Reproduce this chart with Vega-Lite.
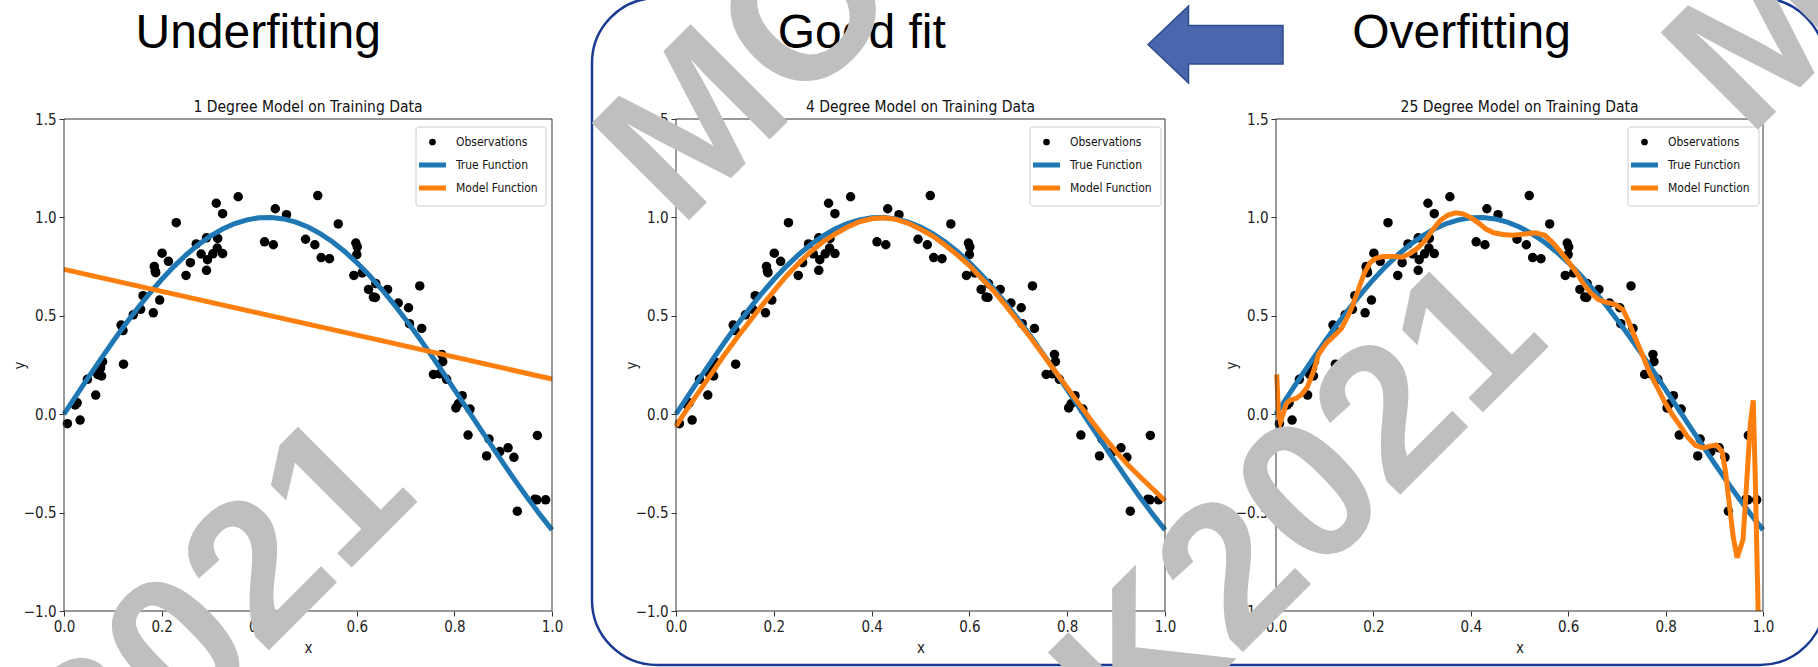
{
  "$schema": "https://vega.github.io/schema/vega-lite/v6.json",
  "width": 1818,
  "height": 667,
  "autosize": {"type": "none"},
  "padding": 0,
  "background": "white",
  "config": {
    "view": {"stroke": null},
    "font": "DejaVu Sans Condensed, DejaVu Sans",
    "axis": {"grid": false, "domain": false, "tickColor": "#333333", "tickSize": 5, "tickWidth": 1, "labelFontSize": 15, "labelColor": "#222222", "titleFontSize": 15, "titleFontWeight": "normal", "titleColor": "#222222", "labelFlush": false, "labelOverlap": false, "labelPadding": 3}
  },
  "datasets": {
    "obs": [
      {"x": 0.007, "y": -0.048}, {"x": 0.023, "y": 0.047}, {"x": 0.027, "y": 0.058}, {"x": 0.033, "y": -0.03},
      {"x": 0.048, "y": 0.177}, {"x": 0.065, "y": 0.097}, {"x": 0.069, "y": 0.202}, {"x": 0.075, "y": 0.235},
      {"x": 0.077, "y": 0.194}, {"x": 0.079, "y": 0.267}, {"x": 0.117, "y": 0.453}, {"x": 0.121, "y": 0.425},
      {"x": 0.122, "y": 0.254}, {"x": 0.142, "y": 0.505}, {"x": 0.157, "y": 0.533}, {"x": 0.162, "y": 0.602},
      {"x": 0.183, "y": 0.515}, {"x": 0.185, "y": 0.751}, {"x": 0.187, "y": 0.727}, {"x": 0.188, "y": 0.719},
      {"x": 0.196, "y": 0.58}, {"x": 0.201, "y": 0.818}, {"x": 0.214, "y": 0.777}, {"x": 0.23, "y": 0.973},
      {"x": 0.25, "y": 0.705}, {"x": 0.259, "y": 0.77}, {"x": 0.271, "y": 0.865}, {"x": 0.281, "y": 0.814},
      {"x": 0.292, "y": 0.731}, {"x": 0.292, "y": 0.896}, {"x": 0.294, "y": 0.785}, {"x": 0.305, "y": 0.815},
      {"x": 0.312, "y": 1.072}, {"x": 0.314, "y": 0.844}, {"x": 0.315, "y": 0.893}, {"x": 0.325, "y": 0.816},
      {"x": 0.325, "y": 1.019}, {"x": 0.357, "y": 1.105}, {"x": 0.411, "y": 0.876}, {"x": 0.429, "y": 0.861},
      {"x": 0.433, "y": 1.044}, {"x": 0.456, "y": 1.014}, {"x": 0.495, "y": 0.889}, {"x": 0.514, "y": 0.861},
      {"x": 0.52, "y": 1.111}, {"x": 0.527, "y": 0.796}, {"x": 0.544, "y": 0.79}, {"x": 0.562, "y": 0.967},
      {"x": 0.594, "y": 0.705}, {"x": 0.598, "y": 0.87}, {"x": 0.601, "y": 0.85}, {"x": 0.6, "y": 0.811},
      {"x": 0.611, "y": 0.718}, {"x": 0.624, "y": 0.634}, {"x": 0.634, "y": 0.595}, {"x": 0.638, "y": 0.593},
      {"x": 0.639, "y": 0.664}, {"x": 0.663, "y": 0.634}, {"x": 0.685, "y": 0.565}, {"x": 0.706, "y": 0.541},
      {"x": 0.708, "y": 0.46}, {"x": 0.729, "y": 0.652}, {"x": 0.733, "y": 0.436}, {"x": 0.757, "y": 0.202},
      {"x": 0.77, "y": 0.205}, {"x": 0.774, "y": 0.304}, {"x": 0.776, "y": 0.267}, {"x": 0.784, "y": 0.177},
      {"x": 0.803, "y": 0.032}, {"x": 0.808, "y": 0.053}, {"x": 0.816, "y": 0.094}, {"x": 0.832, "y": 0.026},
      {"x": 0.828, "y": -0.106}, {"x": 0.871, "y": -0.126}, {"x": 0.866, "y": -0.212}, {"x": 0.893, "y": -0.19},
      {"x": 0.91, "y": -0.171}, {"x": 0.922, "y": -0.219}, {"x": 0.929, "y": -0.493}, {"x": 0.965, "y": -0.432},
      {"x": 0.97, "y": -0.108}, {"x": 0.969, "y": -0.435}, {"x": 0.987, "y": -0.435}
    ],
    "truth": [
      {"x": 0, "y": 0}, {"x": 0.025, "y": 0.0941}, {"x": 0.05, "y": 0.1874}, {"x": 0.075, "y": 0.279},
      {"x": 0.1, "y": 0.3681}, {"x": 0.125, "y": 0.454}, {"x": 0.15, "y": 0.5358}, {"x": 0.175, "y": 0.6129},
      {"x": 0.2, "y": 0.6845}, {"x": 0.225, "y": 0.7501}, {"x": 0.25, "y": 0.809}, {"x": 0.275, "y": 0.8607},
      {"x": 0.3, "y": 0.9048}, {"x": 0.325, "y": 0.9409}, {"x": 0.35, "y": 0.9686}, {"x": 0.375, "y": 0.9877},
      {"x": 0.4, "y": 0.998}, {"x": 0.425, "y": 0.9995}, {"x": 0.45, "y": 0.9921}, {"x": 0.475, "y": 0.9759},
      {"x": 0.5, "y": 0.9511}, {"x": 0.525, "y": 0.9178}, {"x": 0.55, "y": 0.8763}, {"x": 0.575, "y": 0.8271},
      {"x": 0.6, "y": 0.7705}, {"x": 0.625, "y": 0.7071}, {"x": 0.65, "y": 0.6374}, {"x": 0.675, "y": 0.5621},
      {"x": 0.7, "y": 0.4818}, {"x": 0.725, "y": 0.3971}, {"x": 0.75, "y": 0.309}, {"x": 0.775, "y": 0.2181},
      {"x": 0.8, "y": 0.1253}, {"x": 0.825, "y": 0.0314}, {"x": 0.85, "y": -0.0628}, {"x": 0.875, "y": -0.1564},
      {"x": 0.9, "y": -0.2487}, {"x": 0.925, "y": -0.3387}, {"x": 0.95, "y": -0.4258}, {"x": 0.975, "y": -0.509},
      {"x": 1, "y": -0.5878}
    ],
    "m1": [{"x": 0, "y": 0.736}, {"x": 1, "y": 0.179}],
    "m4": [
      {"x": 0, "y": -0.06}, {"x": 0.025, "y": 0.035}, {"x": 0.05, "y": 0.125}, {"x": 0.075, "y": 0.215},
      {"x": 0.1, "y": 0.305}, {"x": 0.125, "y": 0.39}, {"x": 0.15, "y": 0.47}, {"x": 0.175, "y": 0.55},
      {"x": 0.2, "y": 0.625}, {"x": 0.225, "y": 0.7}, {"x": 0.25, "y": 0.765}, {"x": 0.275, "y": 0.825},
      {"x": 0.3, "y": 0.875}, {"x": 0.325, "y": 0.915}, {"x": 0.35, "y": 0.95}, {"x": 0.375, "y": 0.978},
      {"x": 0.4, "y": 0.993}, {"x": 0.425, "y": 0.998}, {"x": 0.45, "y": 0.99}, {"x": 0.475, "y": 0.97},
      {"x": 0.5, "y": 0.94}, {"x": 0.525, "y": 0.905}, {"x": 0.55, "y": 0.86}, {"x": 0.575, "y": 0.81},
      {"x": 0.6, "y": 0.755}, {"x": 0.625, "y": 0.69}, {"x": 0.65, "y": 0.625}, {"x": 0.675, "y": 0.55},
      {"x": 0.7, "y": 0.47}, {"x": 0.725, "y": 0.39}, {"x": 0.75, "y": 0.305}, {"x": 0.775, "y": 0.22},
      {"x": 0.8, "y": 0.135}, {"x": 0.825, "y": 0.05}, {"x": 0.85, "y": -0.035}, {"x": 0.875, "y": -0.115},
      {"x": 0.9, "y": -0.19}, {"x": 0.925, "y": -0.26}, {"x": 0.95, "y": -0.32}, {"x": 0.975, "y": -0.38},
      {"x": 1, "y": -0.44}
    ],
    "m25": [
      {"x": 0.0015, "y": 0.202}, {"x": 0.005, "y": 0.006}, {"x": 0.009, "y": -0.04}, {"x": 0.013, "y": -0.01},
      {"x": 0.021, "y": 0.053}, {"x": 0.029, "y": 0.071}, {"x": 0.041, "y": 0.08}, {"x": 0.052, "y": 0.099},
      {"x": 0.064, "y": 0.136}, {"x": 0.076, "y": 0.211}, {"x": 0.0875, "y": 0.304}, {"x": 0.103, "y": 0.36},
      {"x": 0.119, "y": 0.397}, {"x": 0.134, "y": 0.434}, {"x": 0.146, "y": 0.49}, {"x": 0.158, "y": 0.556},
      {"x": 0.17, "y": 0.64}, {"x": 0.181, "y": 0.714}, {"x": 0.193, "y": 0.77}, {"x": 0.205, "y": 0.792},
      {"x": 0.22, "y": 0.801}, {"x": 0.244, "y": 0.801}, {"x": 0.259, "y": 0.798}, {"x": 0.275, "y": 0.816},
      {"x": 0.291, "y": 0.844}, {"x": 0.306, "y": 0.882}, {"x": 0.322, "y": 0.937}, {"x": 0.337, "y": 0.984},
      {"x": 0.353, "y": 1.012}, {"x": 0.369, "y": 1.023}, {"x": 0.384, "y": 1.018}, {"x": 0.4, "y": 0.999},
      {"x": 0.416, "y": 0.971}, {"x": 0.431, "y": 0.941}, {"x": 0.447, "y": 0.922}, {"x": 0.466, "y": 0.913},
      {"x": 0.486, "y": 0.909}, {"x": 0.509, "y": 0.915}, {"x": 0.533, "y": 0.922}, {"x": 0.552, "y": 0.909},
      {"x": 0.568, "y": 0.872}, {"x": 0.584, "y": 0.826}, {"x": 0.599, "y": 0.779}, {"x": 0.615, "y": 0.727},
      {"x": 0.63, "y": 0.667}, {"x": 0.646, "y": 0.617}, {"x": 0.662, "y": 0.583}, {"x": 0.677, "y": 0.569},
      {"x": 0.697, "y": 0.557}, {"x": 0.7125, "y": 0.531}, {"x": 0.724, "y": 0.472}, {"x": 0.736, "y": 0.397},
      {"x": 0.752, "y": 0.304}, {"x": 0.767, "y": 0.211}, {"x": 0.783, "y": 0.136}, {"x": 0.798, "y": 0.062},
      {"x": 0.814, "y": -0.003}, {"x": 0.83, "y": -0.059}, {"x": 0.845, "y": -0.115}, {"x": 0.861, "y": -0.158},
      {"x": 0.877, "y": -0.171}, {"x": 0.892, "y": -0.162}, {"x": 0.904, "y": -0.156}, {"x": 0.916, "y": -0.19},
      {"x": 0.923, "y": -0.292}, {"x": 0.931, "y": -0.46}, {"x": 0.939, "y": -0.627}, {"x": 0.947, "y": -0.73},
      {"x": 0.959, "y": -0.637}, {"x": 0.966, "y": -0.367}, {"x": 0.974, "y": -0.05}, {"x": 0.98, "y": 0.071},
      {"x": 0.984, "y": -0.311}, {"x": 0.99, "y": -1.0}
    ]
  },
  "resolve": {"scale": {"x": "independent", "y": "independent", "color": "independent"}},
  "layer": [
    {
      "data": {"values": [{}]},
      "mark": {"type": "rect", "fill": "transparent", "stroke": "#1a3a94", "strokeWidth": 2.5, "cornerRadius": 65},
      "encoding": {
        "x": {"datum": -0.1718, "type": "quantitative", "scale": {"domain": [0, 1], "range": [676, 1165], "nice": false, "zero": false}, "axis": null},
        "x2": {"datum": 2.3497},
        "y": {"datum": 2.1148, "type": "quantitative", "scale": {"domain": [-1, 1.5], "range": [611, 119], "nice": false, "zero": false}, "axis": null},
        "y2": {"datum": -1.2744}
      }
    },
    {
      "encoding": {
        "x": {"field": "x", "type": "quantitative", "scale": {"domain": [0, 1], "range": [64, 552], "nice": false, "zero": false}, "axis": {"orient": "bottom", "offset": -56, "values": [0, 0.2, 0.4, 0.6, 0.8, 1], "format": ".1f", "title": "x", "titlePadding": 6}},
        "y": {"field": "y", "type": "quantitative", "scale": {"domain": [-1, 1.5], "range": [611, 119], "nice": false, "zero": false}, "axis": {"orient": "left", "offset": -64, "values": [-1, -0.5, 0, 0.5, 1, 1.5], "format": ".1f", "title": "y", "titlePadding": -4}}
      },
      "layer": [
        {
          "data": {"name": "obs"},
          "mark": {"type": "circle", "size": 90, "opacity": 1},
          "encoding": {"color": {"datum": "Observations", "type": "nominal", "scale": {"domain": ["Observations", "True Function", "Model Function"], "range": ["#000000", "#1f77b4", "#ff7f0e"]},
            "legend": {"title": null, "orient": "none", "legendX": 421, "legendY": 134, "padding": 0, "rowPadding": 7, "clipHeight": 16, "symbolType": "stroke", "symbolSize": 729, "symbolOpacity": 0, "labelFontSize": 12, "labelColor": "#111111", "labelOffset": 6}}}
        },
        {"data": {"name": "truth"}, "mark": {"type": "line", "strokeWidth": 5}, "encoding": {"color": {"datum": "True Function", "type": "nominal", "legend": null}}},
        {"data": {"name": "m1"}, "mark": {"type": "line", "strokeWidth": 5}, "encoding": {"color": {"datum": "Model Function", "type": "nominal", "legend": null}}}
      ]
    },
    {
      "encoding": {
        "x": {"field": "x", "type": "quantitative", "scale": {"domain": [0, 1], "range": [676, 1165], "nice": false, "zero": false}, "axis": {"orient": "bottom", "offset": -56, "values": [0, 0.2, 0.4, 0.6, 0.8, 1], "format": ".1f", "title": "x", "titlePadding": 6}},
        "y": {"field": "y", "type": "quantitative", "scale": {"domain": [-1, 1.5], "range": [611, 119], "nice": false, "zero": false}, "axis": {"orient": "left", "offset": -676, "values": [-1, -0.5, 0, 0.5, 1, 1.5], "format": ".1f", "title": "y", "titlePadding": -4}}
      },
      "layer": [
        {
          "data": {"name": "obs"},
          "mark": {"type": "circle", "size": 90, "opacity": 1},
          "encoding": {"color": {"datum": "Observations", "type": "nominal", "scale": {"domain": ["Observations", "True Function", "Model Function"], "range": ["#000000", "#1f77b4", "#ff7f0e"]},
            "legend": {"title": null, "orient": "none", "legendX": 1035, "legendY": 134, "padding": 0, "rowPadding": 7, "clipHeight": 16, "symbolType": "stroke", "symbolSize": 729, "symbolOpacity": 0, "labelFontSize": 12, "labelColor": "#111111", "labelOffset": 6}}}
        },
        {"data": {"name": "truth"}, "mark": {"type": "line", "strokeWidth": 5}, "encoding": {"color": {"datum": "True Function", "type": "nominal", "legend": null}}},
        {"data": {"name": "m4"}, "mark": {"type": "line", "strokeWidth": 5}, "encoding": {"color": {"datum": "Model Function", "type": "nominal", "legend": null}}}
      ]
    },
    {
      "encoding": {
        "x": {"field": "x", "type": "quantitative", "scale": {"domain": [0, 1], "range": [1276, 1763], "nice": false, "zero": false}, "axis": {"orient": "bottom", "offset": -56, "values": [0, 0.2, 0.4, 0.6, 0.8, 1], "format": ".1f", "title": "x", "titlePadding": 6}},
        "y": {"field": "y", "type": "quantitative", "scale": {"domain": [-1, 1.5], "range": [611, 119], "nice": false, "zero": false}, "axis": {"orient": "left", "offset": -1276, "values": [-1, -0.5, 0, 0.5, 1, 1.5], "format": ".1f", "title": "y", "titlePadding": -4}}
      },
      "layer": [
        {
          "data": {"name": "obs"},
          "mark": {"type": "circle", "size": 90, "opacity": 1},
          "encoding": {"color": {"datum": "Observations", "type": "nominal", "scale": {"domain": ["Observations", "True Function", "Model Function"], "range": ["#000000", "#1f77b4", "#ff7f0e"]},
            "legend": {"title": null, "orient": "none", "legendX": 1633, "legendY": 134, "padding": 0, "rowPadding": 7, "clipHeight": 16, "symbolType": "stroke", "symbolSize": 729, "symbolOpacity": 0, "labelFontSize": 12, "labelColor": "#111111", "labelOffset": 6}}}
        },
        {"data": {"name": "truth"}, "mark": {"type": "line", "strokeWidth": 5}, "encoding": {"color": {"datum": "True Function", "type": "nominal", "legend": null}}},
        {"data": {"name": "m25"}, "mark": {"type": "line", "strokeWidth": 5}, "encoding": {"color": {"datum": "Model Function", "type": "nominal", "legend": null}}}
      ]
    },
    {
      "data": {"values": [{}]},
      "mark": {"type": "rect", "fill": "transparent", "stroke": "#333333", "strokeWidth": 1},
      "encoding": {
        "x": {"datum": 0, "type": "quantitative", "scale": {"domain": [0, 1], "range": [64, 552], "nice": false, "zero": false}, "axis": null},
        "x2": {"datum": 1},
        "y": {"datum": -1, "type": "quantitative", "scale": {"domain": [-1, 1.5], "range": [611, 119], "nice": false, "zero": false}, "axis": null},
        "y2": {"datum": 1.5}
      }
    },
    {
      "data": {"values": [{}]},
      "mark": {"type": "rect", "fill": "transparent", "stroke": "#333333", "strokeWidth": 1},
      "encoding": {
        "x": {"datum": 0, "type": "quantitative", "scale": {"domain": [0, 1], "range": [676, 1165], "nice": false, "zero": false}, "axis": null},
        "x2": {"datum": 1},
        "y": {"datum": -1, "type": "quantitative", "scale": {"domain": [-1, 1.5], "range": [611, 119], "nice": false, "zero": false}, "axis": null},
        "y2": {"datum": 1.5}
      }
    },
    {
      "data": {"values": [{}]},
      "mark": {"type": "rect", "fill": "transparent", "stroke": "#333333", "strokeWidth": 1},
      "encoding": {
        "x": {"datum": 0, "type": "quantitative", "scale": {"domain": [0, 1], "range": [1276, 1763], "nice": false, "zero": false}, "axis": null},
        "x2": {"datum": 1},
        "y": {"datum": -1, "type": "quantitative", "scale": {"domain": [-1, 1.5], "range": [611, 119], "nice": false, "zero": false}, "axis": null},
        "y2": {"datum": 1.5}
      }
    },
    {
      "data": {"values": [{}]},
      "mark": {"type": "rect", "fill": "#ffffff", "fillOpacity": 0.85, "stroke": "#cccccc", "strokeWidth": 1, "cornerRadius": 3},
      "encoding": {
        "x": {"datum": 0.7213, "type": "quantitative", "scale": {"domain": [0, 1], "range": [64, 552], "nice": false, "zero": false}, "axis": null},
        "x2": {"datum": 0.9877},
        "y": {"datum": 1.4593, "type": "quantitative", "scale": {"domain": [-1, 1.5], "range": [611, 119], "nice": false, "zero": false}, "axis": null},
        "y2": {"datum": 1.0579}
      }
    },
    {
      "data": {"values": [{}]},
      "mark": {"type": "rect", "fill": "#ffffff", "fillOpacity": 0.85, "stroke": "#cccccc", "strokeWidth": 1, "cornerRadius": 3},
      "encoding": {
        "x": {"datum": 0.7239, "type": "quantitative", "scale": {"domain": [0, 1], "range": [676, 1165], "nice": false, "zero": false}, "axis": null},
        "x2": {"datum": 0.9918},
        "y": {"datum": 1.4593, "type": "quantitative", "scale": {"domain": [-1, 1.5], "range": [611, 119], "nice": false, "zero": false}, "axis": null},
        "y2": {"datum": 1.0579}
      }
    },
    {
      "data": {"values": [{}]},
      "mark": {"type": "rect", "fill": "#ffffff", "fillOpacity": 0.85, "stroke": "#cccccc", "strokeWidth": 1, "cornerRadius": 3},
      "encoding": {
        "x": {"datum": 0.7228, "type": "quantitative", "scale": {"domain": [0, 1], "range": [1276, 1763], "nice": false, "zero": false}, "axis": null},
        "x2": {"datum": 0.9918},
        "y": {"datum": 1.4593, "type": "quantitative", "scale": {"domain": [-1, 1.5], "range": [611, 119], "nice": false, "zero": false}, "axis": null},
        "y2": {"datum": 1.0579}
      }
    },
    {
      "layer": [
        {"data": {"values": [{}]}, "mark": {"type": "circle", "size": 45, "color": "#000000", "opacity": 1},
          "encoding": {"x": {"datum": 0.7551, "type": "quantitative", "scale": {"domain": [0, 1], "range": [64, 552], "nice": false, "zero": false}, "axis": null},
                       "y": {"datum": 1.3831, "type": "quantitative", "scale": {"domain": [-1, 1.5], "range": [611, 119], "nice": false, "zero": false}, "axis": null}}},
        {"data": {"values": [{}]}, "mark": {"type": "rule", "strokeWidth": 5, "color": "#1f77b4"},
          "encoding": {"x": {"datum": 0.7275, "type": "quantitative", "scale": {"domain": [0, 1], "range": [64, 552], "nice": false, "zero": false}, "axis": null}, "x2": {"datum": 0.7828},
                       "y": {"datum": 1.2663, "type": "quantitative", "scale": {"domain": [-1, 1.5], "range": [611, 119], "nice": false, "zero": false}, "axis": null}}},
        {"data": {"values": [{}]}, "mark": {"type": "rule", "strokeWidth": 5, "color": "#ff7f0e"},
          "encoding": {"x": {"datum": 0.7275, "type": "quantitative", "scale": {"domain": [0, 1], "range": [64, 552], "nice": false, "zero": false}, "axis": null}, "x2": {"datum": 0.7828},
                       "y": {"datum": 1.1494, "type": "quantitative", "scale": {"domain": [-1, 1.5], "range": [611, 119], "nice": false, "zero": false}, "axis": null}}}
      ]
    },
    {
      "layer": [
        {"data": {"values": [{}]}, "mark": {"type": "circle", "size": 45, "color": "#000000", "opacity": 1},
          "encoding": {"x": {"datum": 0.7577, "type": "quantitative", "scale": {"domain": [0, 1], "range": [676, 1165], "nice": false, "zero": false}, "axis": null},
                       "y": {"datum": 1.3831, "type": "quantitative", "scale": {"domain": [-1, 1.5], "range": [611, 119], "nice": false, "zero": false}, "axis": null}}},
        {"data": {"values": [{}]}, "mark": {"type": "rule", "strokeWidth": 5, "color": "#1f77b4"},
          "encoding": {"x": {"datum": 0.7301, "type": "quantitative", "scale": {"domain": [0, 1], "range": [676, 1165], "nice": false, "zero": false}, "axis": null}, "x2": {"datum": 0.7853},
                       "y": {"datum": 1.2663, "type": "quantitative", "scale": {"domain": [-1, 1.5], "range": [611, 119], "nice": false, "zero": false}, "axis": null}}},
        {"data": {"values": [{}]}, "mark": {"type": "rule", "strokeWidth": 5, "color": "#ff7f0e"},
          "encoding": {"x": {"datum": 0.7301, "type": "quantitative", "scale": {"domain": [0, 1], "range": [676, 1165], "nice": false, "zero": false}, "axis": null}, "x2": {"datum": 0.7853},
                       "y": {"datum": 1.1494, "type": "quantitative", "scale": {"domain": [-1, 1.5], "range": [611, 119], "nice": false, "zero": false}, "axis": null}}}
      ]
    },
    {
      "layer": [
        {"data": {"values": [{}]}, "mark": {"type": "circle", "size": 45, "color": "#000000", "opacity": 1},
          "encoding": {"x": {"datum": 0.7567, "type": "quantitative", "scale": {"domain": [0, 1], "range": [1276, 1763], "nice": false, "zero": false}, "axis": null},
                       "y": {"datum": 1.3831, "type": "quantitative", "scale": {"domain": [-1, 1.5], "range": [611, 119], "nice": false, "zero": false}, "axis": null}}},
        {"data": {"values": [{}]}, "mark": {"type": "rule", "strokeWidth": 5, "color": "#1f77b4"},
          "encoding": {"x": {"datum": 0.729, "type": "quantitative", "scale": {"domain": [0, 1], "range": [1276, 1763], "nice": false, "zero": false}, "axis": null}, "x2": {"datum": 0.7844},
                       "y": {"datum": 1.2663, "type": "quantitative", "scale": {"domain": [-1, 1.5], "range": [611, 119], "nice": false, "zero": false}, "axis": null}}},
        {"data": {"values": [{}]}, "mark": {"type": "rule", "strokeWidth": 5, "color": "#ff7f0e"},
          "encoding": {"x": {"datum": 0.729, "type": "quantitative", "scale": {"domain": [0, 1], "range": [1276, 1763], "nice": false, "zero": false}, "axis": null}, "x2": {"datum": 0.7844},
                       "y": {"datum": 1.1494, "type": "quantitative", "scale": {"domain": [-1, 1.5], "range": [611, 119], "nice": false, "zero": false}, "axis": null}}}
      ]
    },
    {
      "data": {"values": [{"label": "1 Degree Model on Training Data"}]},
      "mark": {"type": "text", "align": "center", "baseline": "alphabetic", "fontSize": 15.5, "color": "#111111"},
      "encoding": {
        "x": {"datum": 0.5, "type": "quantitative", "scale": {"domain": [0, 1], "range": [64, 552], "nice": false, "zero": false}, "axis": null},
        "y": {"datum": 1.5356, "type": "quantitative", "scale": {"domain": [-1, 1.5], "range": [611, 119], "nice": false, "zero": false}, "axis": null},
        "text": {"field": "label"}
      }
    },
    {
      "data": {"values": [{"label": "4 Degree Model on Training Data"}]},
      "mark": {"type": "text", "align": "center", "baseline": "alphabetic", "fontSize": 15.5, "color": "#111111"},
      "encoding": {
        "x": {"datum": 0.5, "type": "quantitative", "scale": {"domain": [0, 1], "range": [676, 1165], "nice": false, "zero": false}, "axis": null},
        "y": {"datum": 1.5356, "type": "quantitative", "scale": {"domain": [-1, 1.5], "range": [611, 119], "nice": false, "zero": false}, "axis": null},
        "text": {"field": "label"}
      }
    },
    {
      "data": {"values": [{"label": "25 Degree Model on Training Data"}]},
      "mark": {"type": "text", "align": "center", "baseline": "alphabetic", "fontSize": 15.5, "color": "#111111"},
      "encoding": {
        "x": {"datum": 0.5, "type": "quantitative", "scale": {"domain": [0, 1], "range": [1276, 1763], "nice": false, "zero": false}, "axis": null},
        "y": {"datum": 1.5356, "type": "quantitative", "scale": {"domain": [-1, 1.5], "range": [611, 119], "nice": false, "zero": false}, "axis": null},
        "text": {"field": "label"}
      }
    },
    {
      "data": {"values": [{"label": "Underfitting"}]},
      "mark": {"type": "text", "align": "center", "baseline": "alphabetic", "font": "Liberation Sans", "fontSize": 48, "color": "#000000"},
      "encoding": {
        "x": {"datum": 0.398, "type": "quantitative", "scale": {"domain": [0, 1], "range": [64, 552], "nice": false, "zero": false}, "axis": null},
        "y": {"datum": 1.861, "type": "quantitative", "scale": {"domain": [-1, 1.5], "range": [611, 119], "nice": false, "zero": false}, "axis": null},
        "text": {"field": "label"}
      }
    },
    {
      "data": {"values": [{"label": "Good fit"}]},
      "mark": {"type": "text", "align": "center", "baseline": "alphabetic", "font": "Liberation Sans", "fontSize": 48, "color": "#000000"},
      "encoding": {
        "x": {"datum": 0.38, "type": "quantitative", "scale": {"domain": [0, 1], "range": [676, 1165], "nice": false, "zero": false}, "axis": null},
        "y": {"datum": 1.861, "type": "quantitative", "scale": {"domain": [-1, 1.5], "range": [611, 119], "nice": false, "zero": false}, "axis": null},
        "text": {"field": "label"}
      }
    },
    {
      "data": {"values": [{"label": "Overfitting"}]},
      "mark": {"type": "text", "align": "center", "baseline": "alphabetic", "font": "Liberation Sans", "fontSize": 48, "color": "#000000"},
      "encoding": {
        "x": {"datum": 0.381, "type": "quantitative", "scale": {"domain": [0, 1], "range": [1276, 1763], "nice": false, "zero": false}, "axis": null},
        "y": {"datum": 1.861, "type": "quantitative", "scale": {"domain": [-1, 1.5], "range": [611, 119], "nice": false, "zero": false}, "axis": null},
        "text": {"field": "label"}
      }
    },
    {
      "data": {"values": [{}]},
      "mark": {"type": "point", "shape": "M-1,0L-0.4,-0.57L-0.4,-0.28L1,-0.28L1,0.29L-0.4,0.29L-0.4,0.57Z", "size": 18225, "filled": true, "fill": "#4a67ad", "stroke": "#2f4c8c", "strokeWidth": 1.5, "opacity": 1},
      "encoding": {
        "x": {"datum": 1.1033, "type": "quantitative", "scale": {"domain": [0, 1], "range": [676, 1165], "nice": false, "zero": false}, "axis": null},
        "y": {"datum": 1.8786, "type": "quantitative", "scale": {"domain": [-1, 1.5], "range": [611, 119], "nice": false, "zero": false}, "axis": null}
      }
    },
    {
      "data": {"values": [{"label": "MOK2021"}]},
      "mark": {"type": "text", "align": "right", "baseline": "alphabetic", "font": "Liberation Sans", "fontWeight": "bold", "fontSize": 200, "angle": 315, "color": "#bfbfbf"},
      "encoding": {
        "x": {"datum": 0.7324, "type": "quantitative", "scale": {"domain": [0, 1], "range": [64, 552], "nice": false, "zero": false}, "axis": null},
        "y": {"datum": -0.4253, "type": "quantitative", "scale": {"domain": [-1, 1.5], "range": [611, 119], "nice": false, "zero": false}, "axis": null},
        "text": {"field": "label"}
      }
    },
    {
      "data": {"values": [{"label": "MOK2021"}]},
      "mark": {"type": "text", "align": "left", "baseline": "alphabetic", "font": "Liberation Sans", "fontWeight": "bold", "fontSize": 200, "angle": 315, "color": "#bfbfbf"},
      "encoding": {
        "x": {"datum": 0.0072, "type": "quantitative", "scale": {"domain": [0, 1], "range": [676, 1165], "nice": false, "zero": false}, "axis": null},
        "y": {"datum": 0.937, "type": "quantitative", "scale": {"domain": [-1, 1.5], "range": [611, 119], "nice": false, "zero": false}, "axis": null},
        "text": {"field": "label"}
      }
    },
    {
      "data": {"values": [{"label": "MOK2021"}]},
      "mark": {"type": "text", "align": "right", "baseline": "alphabetic", "font": "Liberation Sans", "fontWeight": "bold", "fontSize": 200, "angle": 315, "color": "#bfbfbf"},
      "encoding": {
        "x": {"datum": 0.568, "type": "quantitative", "scale": {"domain": [0, 1], "range": [1276, 1763], "nice": false, "zero": false}, "axis": null},
        "y": {"datum": 0.3643, "type": "quantitative", "scale": {"domain": [-1, 1.5], "range": [611, 119], "nice": false, "zero": false}, "axis": null},
        "text": {"field": "label"}
      }
    },
    {
      "data": {"values": [{"label": "MOK2021"}]},
      "mark": {"type": "text", "align": "left", "baseline": "alphabetic", "font": "Liberation Sans", "fontWeight": "bold", "fontSize": 200, "angle": 315, "color": "#bfbfbf"},
      "encoding": {
        "x": {"datum": 0.9704, "type": "quantitative", "scale": {"domain": [0, 1], "range": [1276, 1763], "nice": false, "zero": false}, "axis": null},
        "y": {"datum": 1.397, "type": "quantitative", "scale": {"domain": [-1, 1.5], "range": [611, 119], "nice": false, "zero": false}, "axis": null},
        "text": {"field": "label"}
      }
    }
  ]
}
